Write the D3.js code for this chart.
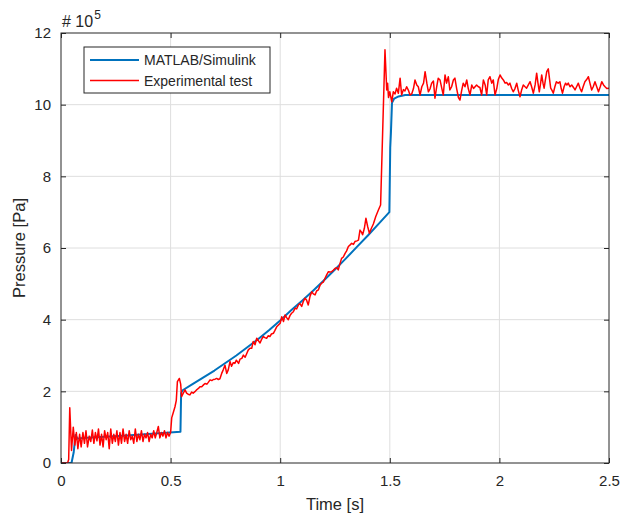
<!DOCTYPE html>
<html>
<head>
<meta charset="utf-8">
<script src="https://d3js.org/d3.v7.min.js"></script>
<style>
  body { margin: 0; background: #fff; }
  text { font-family: "Liberation Sans", Arial, sans-serif; fill: #262626; }
</style>
</head>
<body>
<script>
// Pressure values in units of 1e5 Pa
var simTime = [0, 0.048, 0.058, 0.066, 0.075, 0.1, 0.3, 0.545, 0.548, 0.555,
  0.6, 0.65, 0.7, 0.75, 0.8, 0.85, 0.9, 0.95, 1.0, 1.05, 1.1, 1.15, 1.2, 1.25,
  1.3, 1.35, 1.4, 1.45, 1.498, 1.502, 1.505, 1.51, 1.52, 1.54, 1.57, 2.5];
var simPressure = [0, 0, 0.3, 0.78, 0.68, 0.7, 0.77, 0.87, 1.95, 2.03,
  2.2, 2.39, 2.58, 2.79, 3.0, 3.23, 3.46, 3.71, 3.98, 4.26, 4.53, 4.81, 5.1, 5.4,
  5.71, 6.03, 6.35, 6.68, 7.0, 8.8, 9.2, 10.05, 10.17, 10.23, 10.27, 10.27];

var expTime = [0, 0.03, 0.035, 0.04, 0.048, 0.056, 0.063, 0.07, 0.077, 0.085, 0.092, 0.1,
  0.107, 0.114, 0.121, 0.129, 0.136, 0.143, 0.15, 0.157, 0.164, 0.171, 0.178, 0.185,
  0.192, 0.199, 0.206, 0.213, 0.22, 0.227, 0.234, 0.241, 0.248, 0.255, 0.262, 0.269,
  0.276, 0.283, 0.29, 0.297, 0.304, 0.311, 0.318, 0.325, 0.332, 0.339, 0.346, 0.353,
  0.36, 0.367, 0.374, 0.381, 0.388, 0.395, 0.402, 0.409, 0.416, 0.423, 0.43, 0.437,
  0.444, 0.451, 0.458, 0.465, 0.472, 0.479, 0.486, 0.493, 0.5, 0.505, 0.512, 0.52,
  0.526, 0.531, 0.54, 0.546, 0.55, 0.558, 0.566, 0.573, 0.58, 0.588, 0.596, 0.603,
  0.611, 0.62, 0.627, 0.634, 0.642, 0.65, 0.657, 0.665, 0.672, 0.68, 0.688, 0.695,
  0.703, 0.71, 0.718, 0.725, 0.733, 0.74, 0.748, 0.756, 0.763, 0.771, 0.778, 0.786,
  0.793, 0.8, 0.81, 0.817, 0.825, 0.832, 0.84, 0.847, 0.854, 0.862, 0.87, 0.877,
  0.885, 0.893, 0.9, 0.908, 0.915, 0.923, 0.93, 0.938, 0.945, 0.953, 0.96, 0.969,
  0.976, 0.984, 0.992, 1.0, 1.007, 1.015, 1.022, 1.03, 1.037, 1.045, 1.052, 1.06,
  1.068, 1.075, 1.083, 1.09, 1.098, 1.105, 1.113, 1.12, 1.128, 1.136, 1.144, 1.151,
  1.159, 1.166, 1.174, 1.181, 1.189, 1.197, 1.204, 1.212, 1.22, 1.227, 1.235, 1.242,
  1.25, 1.258, 1.265, 1.272, 1.28, 1.288, 1.296, 1.303, 1.311, 1.318, 1.326, 1.334,
  1.341, 1.35, 1.357, 1.364, 1.37, 1.376, 1.384, 1.391, 1.399, 1.407, 1.416, 1.425,
  1.436, 1.448, 1.458, 1.478, 1.486, 1.49, 1.494, 1.5, 1.509, 1.516, 1.524, 1.531,
  1.539, 1.547, 1.554, 1.562, 1.569, 1.577, 1.585, 1.592, 1.6, 1.608, 1.615, 1.623,
  1.63, 1.638, 1.646, 1.654, 1.661, 1.669, 1.676, 1.684, 1.691, 1.699, 1.706, 1.714,
  1.721, 1.729, 1.737, 1.744, 1.752, 1.759, 1.767, 1.774, 1.782, 1.79, 1.797, 1.805,
  1.813, 1.82, 1.828, 1.835, 1.843, 1.851, 1.858, 1.866, 1.874, 1.882, 1.889, 1.896,
  1.904, 1.911, 1.919, 1.927, 1.935, 1.942, 1.949, 1.957, 1.965, 1.972, 1.98, 1.988,
  1.995, 2.003, 2.01, 2.018, 2.026, 2.033, 2.041, 2.048, 2.056, 2.063, 2.071, 2.079,
  2.086, 2.094, 2.101, 2.109, 2.117, 2.124, 2.132, 2.14, 2.147, 2.155, 2.163, 2.17,
  2.176, 2.182, 2.188, 2.193, 2.199, 2.204, 2.21, 2.216, 2.223, 2.229, 2.234, 2.24,
  2.246, 2.253, 2.26, 2.268, 2.276, 2.282, 2.288, 2.295, 2.302, 2.308, 2.314, 2.322,
  2.33, 2.338, 2.345, 2.352, 2.36, 2.368, 2.375, 2.382, 2.39, 2.398, 2.406, 2.413,
  2.421, 2.428, 2.436, 2.444, 2.452, 2.46, 2.467, 2.475, 2.482, 2.49, 2.5];
var expPressure = [0, 0, 0.1, 1.54, 0.35, 1.0, 0.5, 0.85, 0.4, 0.8, 0.45, 0.85,
  0.55, 0.9, 0.45, 0.75, 0.6, 0.92, 0.55, 0.85, 0.62, 0.95, 0.5, 0.8,
  0.45, 0.9, 0.65, 0.85, 0.4, 0.95, 0.55, 0.8, 0.6, 0.9, 0.5, 0.85,
  0.55, 0.95, 0.6, 0.8, 0.55, 0.9, 0.65, 0.75, 0.55, 0.95, 0.6, 0.8,
  0.65, 0.9, 0.6, 0.8, 0.7, 0.85, 0.6, 0.8, 0.7, 0.9, 0.7, 0.85,
  1.02, 0.7, 0.85, 0.75, 0.9, 0.7, 0.85, 0.75, 0.85, 1.26, 1.4, 1.57,
  1.75, 2.27, 2.36, 2.2, 1.85, 1.95, 2.04, 1.95, 1.92, 1.9, 1.98, 1.95,
  1.99, 2.05, 2.08, 2.13, 2.13, 2.18, 2.22, 2.2, 2.25, 2.32, 2.3, 2.33,
  2.34, 2.36, 2.33, 2.35, 2.5, 2.6, 2.73, 2.5, 2.6, 2.83, 2.7, 2.8,
  2.78, 2.87, 2.78, 2.9, 2.92, 3.01, 2.95, 3.05, 3.15, 3.2, 3.2, 3.39,
  3.3, 3.48, 3.42, 3.35, 3.45, 3.53, 3.5, 3.48, 3.55, 3.53, 3.6, 3.62,
  3.7, 3.8, 3.85, 3.9, 4.08, 3.95, 4.13, 4.05, 4.0, 4.12, 4.18, 4.22,
  4.32, 4.3, 4.41, 4.45, 4.37, 4.5, 4.6, 4.55, 4.41, 4.65, 4.78, 4.72,
  4.69, 4.8, 4.83, 4.95, 5.02, 5.05, 5.15, 5.25, 5.34, 5.33, 5.34, 5.38,
  5.43, 5.45, 5.39, 5.55, 5.71, 5.75, 5.85, 5.92, 6.04, 6.08, 6.13, 6.1,
  6.18, 6.2, 6.22, 6.5, 6.45, 6.37, 6.55, 6.83, 6.6, 6.41, 6.55, 6.67,
  6.88, 7.06, 7.2, 11.53, 10.41, 10.6, 10.2, 10.36, 10.08, 10.36, 10.3, 10.46,
  10.32, 10.74, 10.27, 10.42, 10.38, 10.5, 10.4, 10.27, 10.3, 10.45, 10.69, 10.55,
  10.5, 10.27, 10.5, 10.6, 10.92, 10.6, 10.36, 10.45, 10.6, 10.66, 10.18, 10.5,
  10.74, 10.69, 10.46, 10.27, 10.83, 10.6, 10.78, 10.41, 10.5, 10.69, 10.74, 10.45,
  10.2, 10.13, 10.4, 10.6, 10.5, 10.69, 10.45, 10.27, 10.55, 10.45, 10.5, 10.55,
  10.5, 10.48, 10.27, 10.69, 10.55, 10.27, 10.69, 10.78, 10.6, 10.69, 10.27, 10.45,
  10.7, 10.83, 10.75, 10.69, 10.6, 10.62, 10.55, 10.6, 10.45, 10.36, 10.45, 10.6,
  10.4, 10.22, 10.4, 10.55, 10.5, 10.46, 10.55, 10.64, 10.5, 10.32, 10.55, 10.88,
  10.6, 10.36, 10.6, 10.83, 10.6, 10.46, 10.7, 10.92, 11.0, 10.7, 10.46, 10.4,
  10.32, 10.5, 10.64, 10.6, 10.64, 10.45, 10.32, 10.5, 10.6, 10.55, 10.6, 10.5,
  10.55, 10.48, 10.41, 10.5, 10.6, 10.45, 10.36, 10.5, 10.64, 10.7, 10.78, 10.6,
  10.41, 10.5, 10.64, 10.5, 10.36, 10.5, 10.64, 10.55, 10.5, 10.45, 10.46];

var xTicks = [0, 0.5, 1, 1.5, 2, 2.5];
var yTicks = [0, 2, 4, 6, 8, 10, 12];
var seriesNames = ["MATLAB/Simulink", "Experimental test"];
var seriesColors = ["#0072bd", "#ff0000"];

var W = 621, H = 515;
var margin = {top: 33, right: 12, bottom: 52, left: 61};
var width = W - margin.left - margin.right,
    height = H - margin.top - margin.bottom;

var svg = d3.select("body").append("svg")
  .attr("width", W).attr("height", H);

var g = svg.append("g")
  .attr("transform", "translate(" + margin.left + "," + margin.top + ")");

var x = d3.scaleLinear().domain([0, 2.5]).range([0, width]);
var y = d3.scaleLinear().domain([0, 12]).range([height, 0]);

// grid
g.append("g").selectAll("line").data(xTicks.slice(1, -1)).enter().append("line")
  .attr("x1", d => x(d)).attr("x2", d => x(d))
  .attr("y1", 0).attr("y2", height)
  .attr("stroke", "#dedede").attr("stroke-width", 1);
g.append("g").selectAll("line").data(yTicks.slice(1, -1)).enter().append("line")
  .attr("x1", 0).attr("x2", width)
  .attr("y1", d => y(d)).attr("y2", d => y(d))
  .attr("stroke", "#dedede").attr("stroke-width", 1);

g.append("defs").append("clipPath").attr("id", "clip")
  .append("rect").attr("width", width).attr("height", height);

var line = d3.line().x(d => x(d[0])).y(d => y(d[1]));
var simData = d3.zip(simTime, simPressure);
var expData = d3.zip(expTime, expPressure);

var plot = g.append("g").attr("clip-path", "url(#clip)");
plot.append("path").datum(simData)
  .attr("d", line).attr("fill", "none")
  .attr("stroke", seriesColors[0]).attr("stroke-width", 2)
  .attr("stroke-linejoin", "round");
plot.append("path").datum(expData)
  .attr("d", line).attr("fill", "none")
  .attr("stroke", seriesColors[1]).attr("stroke-width", 1.5)
  .attr("stroke-linejoin", "round");

// axes (ticks inside, on all four sides)
function styleAxis(sel) {
  sel.select(".domain").remove();
  sel.selectAll(".tick line").attr("stroke", "#262626");
  sel.selectAll(".tick text").style("font-size", "15px")
    .style("font-family", "'Liberation Sans', Arial, sans-serif").attr("fill", "#262626");
}
g.append("g").attr("transform", "translate(0," + height + ")")
  .call(d3.axisBottom(x).tickValues(xTicks).tickFormat(d3.format("")).tickSizeInner(-5).tickSizeOuter(0).tickPadding(12))
  .call(styleAxis);
g.append("g")
  .call(d3.axisLeft(y).tickValues(yTicks).tickSizeInner(-5).tickSizeOuter(0).tickPadding(10))
  .call(styleAxis);
g.append("g")
  .call(d3.axisTop(x).tickValues(xTicks).tickFormat("").tickSizeInner(-5).tickSizeOuter(0))
  .call(styleAxis);
g.append("g").attr("transform", "translate(" + width + ",0)")
  .call(d3.axisRight(y).tickValues(yTicks).tickFormat("").tickSizeInner(-5).tickSizeOuter(0))
  .call(styleAxis);

g.append("rect").attr("width", width).attr("height", height)
  .attr("fill", "none").attr("stroke", "#262626").attr("stroke-width", 1);

// exponent
var ex = g.append("text").attr("x", 1).attr("y", -6).style("font-size", "16px");
ex.append("tspan").text("# 10");
ex.append("tspan").attr("dy", -8).attr("dx", 1).style("font-size", "12px").text("5");

// axis labels
g.append("text").attr("x", width / 2).attr("y", height + 47)
  .attr("text-anchor", "middle").style("font-size", "16.5px").text("Time [s]");
g.append("text")
  .attr("transform", "translate(" + (-36) + "," + (height / 2) + ") rotate(-90)")
  .attr("text-anchor", "middle").style("font-size", "16.5px").text("Pressure [Pa]");

// legend
var lg = g.append("g").attr("transform", "translate(23,14)");
lg.append("rect").attr("width", 186).attr("height", 46)
  .attr("fill", "#fff").attr("stroke", "#262626").attr("stroke-width", 1);
seriesNames.forEach(function(name, i) {
  var ly = 13 + i * 20.5;
  lg.append("line").attr("x1", 6).attr("x2", 55).attr("y1", ly).attr("y2", ly)
    .attr("stroke", seriesColors[i]).attr("stroke-width", i === 0 ? 2 : 1.5);
  lg.append("text").attr("x", 60).attr("y", ly + 5)
    .style("font-size", "14px").text(name);
});
</script>
</body>
</html>
